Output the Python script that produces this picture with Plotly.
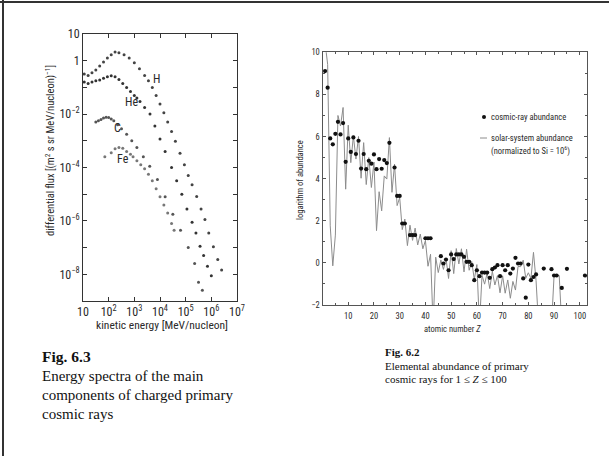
import plotly.graph_objects as go

W, H = 609, 456
def fx(px): return px / W
def fy(py): return 1 - py / H

# ---------------- Fig 6.3 data (log10 E [MeV/nucleon], log10 flux) ----------------
h_logE = [1.05,1.2,1.35,1.5,1.65,1.8,1.95,2.1,2.25,2.4,2.6,2.8,3.0,3.2,3.4,3.55,3.7,3.85,4.0,4.15,4.3,4.45,4.6,4.78,4.95,5.1,5.25,5.43,5.6,5.75,5.9,6.08,6.25,6.4]
h_logF = [-0.5,-0.55,-0.45,-0.35,-0.2,-0.05,0.1,0.22,0.33,0.3,0.22,0.1,-0.08,-0.3,-0.55,-0.75,-1.0,-1.3,-1.62,-1.95,-2.3,-2.65,-3.02,-3.47,-3.9,-4.3,-4.65,-5.09,-5.55,-5.95,-6.45,-6.97,-7.45,-7.84]
he_logE = [1.05,1.2,1.35,1.5,1.65,1.8,1.95,2.1,2.25,2.4,2.55,2.7,2.85,3.0,3.1,3.22,3.4,3.61,3.8,4.0,4.2,4.45,4.65,4.85,5.05,5.25,5.4,5.56,5.7,5.85,6.0]
he_logF = [-0.8,-0.85,-0.8,-0.75,-0.72,-0.66,-0.6,-0.56,-0.6,-0.7,-0.85,-1.0,-1.15,-1.3,-1.4,-1.53,-1.75,-2.0,-2.45,-2.93,-3.4,-4.0,-4.5,-5.0,-5.55,-6.05,-6.45,-6.95,-7.3,-7.7,-8.05]
c_logE = [1.5,1.6,1.7,1.8,1.9,2.0,2.1,2.2,2.35,2.5,2.7,2.9,3.1,3.35,3.6,3.9,4.2,4.5,4.8,5.1,5.35,5.5,5.65]
c_logF = [-2.3,-2.25,-2.2,-2.15,-2.12,-2.13,-2.18,-2.25,-2.4,-2.55,-2.75,-3.0,-3.25,-3.6,-3.95,-4.45,-5.1,-5.75,-6.35,-7.0,-7.6,-8.3,-8.6]
fe_logE = [1.85,2.1,2.25,2.4,2.55,2.7,2.85,2.95,3.1,3.25,3.4,3.55,3.7,3.85,4.0,4.15,4.3,4.45,4.55]
fe_logF = [-3.6,-3.45,-3.3,-3.25,-3.28,-3.4,-3.5,-3.6,-3.75,-3.9,-4.05,-4.25,-4.5,-4.8,-5.1,-5.4,-5.7,-6.1,-6.35]
species_labels = ["H", "He", "C", "Fe"]
label_logE = [3.88, 2.9, 2.36, 2.56]
label_logF = [-0.69, -1.53, -2.52, -3.68]
x1_ticks_exp = [1, 2, 3, 4, 5, 6, 7]
y1_label_exp = [1, 0, -2, -4, -6, -8]
y1_minor_exp = [-1, -3, -5, -7, -9]

# ---------------- Fig 6.2 data ----------------
solar_Z = list(range(1, 94))
solar_log = [10.45,9.43,1.76,-0.14,1.32,7.00,6.50,7.38,3.5,6.54,
             4.76,6.03,4.93,6.00,4.02,5.71,3.72,5.00,3.58,4.79,
             1.53,3.38,2.47,4.13,3.98,5.95,3.35,4.69,2.72,3.10,
             1.58,2.08,0.82,1.79,1.07,1.65,0.85,1.37,0.67,1.06,
             -0.16,0.41,None,0.27,-0.46,0.14,-0.31,0.21,-0.74,0.58,
             -0.51,0.68,-0.05,0.67,-0.43,0.65,-0.35,0.06,-0.78,-0.08,
             None,-0.59,-1.01,-0.48,-1.22,-0.40,-1.05,-0.60,-1.42,-0.61,
             -1.44,-0.81,-1.68,-0.88,-1.29,-0.17,-0.18,0.13,-0.73,-0.47,
             -0.74,0.50,-0.84,None,None,None,None,None,None,-0.6,
             -0.6,-0.6,None]
cr_Z = [1,2,3,4,5,6,7,8,9,10,11,12,13,14,15,16,17,18,19,20,21,22,23,24,25,26,28,
        29,30,31,32,34,35,36,40,41,42,
        46,47,48,49,50,51,52,53,54,55,56,57,58,59,60,61,62,63,64,65,66,67,68,69,70,
        71,72,73,74,75,76,77,78,79,80,81,82,83,86,89,90,91,93,95,102]
cr_log = [9.11,8.32,5.91,5.63,6.13,6.70,6.10,6.64,4.80,5.91,5.27,5.96,5.17,5.80,4.48,5.17,4.45,4.85,4.71,5.15,4.45,4.93,4.47,4.88,4.74,5.70,4.53,
          3.18,3.18,1.87,1.87,1.32,1.32,1.32,1.17,1.17,1.17,
          0.32,-0.03,0.16,-0.35,0.40,0.18,0.40,0.40,0.40,0.29,0.05,0.05,-0.11,-0.82,-0.35,-0.63,-0.46,-0.46,-0.46,-0.71,-0.30,-0.22,-0.11,-0.63,-0.11,
          -0.35,-0.11,-0.51,-0.27,0.24,-0.03,-0.03,-0.74,-1.65,-0.08,-0.82,-0.67,-0.55,-0.27,-0.30,-0.60,-0.60,-1.19,-0.28,-0.60]
cr_groups = [[29,30],[31,32],[34,35,36],[40,41,42],[52,53,54],[56,57],[62,63,64],[76,77],[90,91]]
x2_ticks = [10,20,30,40,50,60,70,80,90,100]
y2_ticks = [-2,0,2,4,6,8,10]

SANS = "Liberation Sans Narrow, Roboto Condensed, DejaVu Sans Condensed, Liberation Sans, Arial, sans-serif"
SERIF = "Liberation Serif, Times New Roman, DejaVu Serif, serif"
TXT = "#2a2a2a"

def pow10_label(k):
    if k == 1:
        return "10"
    if k == 0:
        return "1"
    return "10<sup>" + str(k).replace("-", "\u2212") + "</sup>"

fig = go.Figure()

# left chart traces
for lx, ly, col in [(h_logE, h_logF, "#444"), (he_logE, he_logF, "#333"),
                    (c_logE, c_logF, "#555"), (fe_logE, fe_logF, "#777")]:
    fig.add_trace(go.Scatter(x=[10**v for v in lx], y=[10**v for v in ly], mode="markers",
                             marker=dict(size=3, color=col, symbol="circle"),
                             xaxis="x", yaxis="y", showlegend=False, hoverinfo="skip"))

# right chart traces
solar_plot = [v if v is not None else -3 for v in solar_log]
fig.add_trace(go.Scatter(x=solar_Z, y=solar_plot, mode="lines",
                         line=dict(color="#8c8c8c", width=1),
                         xaxis="x2", yaxis="y2", showlegend=False, hoverinfo="skip"))
lookup = dict(zip(cr_Z, cr_log))
gx, gy = [], []
for g in cr_groups:
    gx += g + [None]
    gy += [lookup[z] for z in g] + [None]
fig.add_trace(go.Scatter(x=gx, y=gy, mode="lines", line=dict(color="#111", width=1),
                         xaxis="x2", yaxis="y2", showlegend=False, hoverinfo="skip"))
fig.add_trace(go.Scatter(x=cr_Z, y=cr_log, mode="markers",
                         marker=dict(size=4.2, color="#111"),
                         xaxis="x2", yaxis="y2", showlegend=False, hoverinfo="skip"))

axis_common = dict(showgrid=False, zeroline=False, showline=True, ticks="inside",
                   mirror="ticks", automargin=False)

fig.update_layout(
    width=W, height=H, margin=dict(l=0, r=0, t=0, b=0),
    paper_bgcolor="white", plot_bgcolor="white",
    xaxis=dict(axis_common, type="log", range=[1, 7], domain=[fx(83), fx(237)], anchor="y",
               tickvals=[10**k for k in x1_ticks_exp],
               ticktext=[pow10_label(k) for k in x1_ticks_exp],
               ticklen=4, linecolor="#333", tickcolor="#333", linewidth=1,
               tickfont=dict(family=SANS, size=12, color=TXT)),
    yaxis=dict(axis_common, type="log", range=[-9, 1], domain=[fy(301), fy(34)], anchor="x",
               tickvals=[10**k for k in y1_label_exp],
               ticktext=[pow10_label(k) for k in y1_label_exp],
               minor=dict(tickvals=[10**k for k in y1_minor_exp], ticks="inside", ticklen=4, tickcolor="#333"),
               ticklen=4, linecolor="#333", tickcolor="#333", linewidth=1,
               tickfont=dict(family=SANS, size=12, color=TXT)),
    xaxis2=dict(axis_common, range=[0, 102.8], domain=[fx(322.5), fx(587)], anchor="y2",
                tickvals=x2_ticks, ticktext=[str(v) for v in x2_ticks],
                ticklen=3, linecolor="#555", tickcolor="#555", linewidth=1, ticklabelstandoff=3,
                minor=dict(dtick=5, ticks="inside", ticklen=2, tickcolor="#555"),
                tickfont=dict(family=SANS, size=8.5, color=TXT)),
    yaxis2=dict(axis_common, range=[-2, 10], domain=[fy(305), fy(52.3)], anchor="x2",
                tickvals=y2_ticks, ticktext=[str(v).replace("-", "\u2212") for v in y2_ticks],
                ticklen=3, linecolor="#555", tickcolor="#555", linewidth=1,
                minor=dict(dtick=1, ticks="inside", ticklen=2, tickcolor="#555"),
                tickfont=dict(family=SANS, size=8.5, color=TXT)),
)

ann = []
def A(text, x, y, size, family=SANS, xanchor="center", yanchor="middle", angle=0, color=TXT, xref="paper", yref="paper"):
    ann.append(dict(text=text, x=x, y=y, xref=xref, yref=yref, showarrow=False,
                    xanchor=xanchor, yanchor=yanchor, textangle=angle,
                    font=dict(family=family, size=size, color=color)))

# left chart texts
A("differential flux [(m<sup>2</sup> s sr MeV/nucleon)<sup>\u22121</sup>]", fx(50), fy(151), 10.5, angle=-90)
A("kinetic energy [MeV/nucleon]", fx(162), fy(325), 11.5)
for t, lx, ly in zip(species_labels, label_logE, label_logF):
    A(t, lx, ly, 12, xref="x", yref="y")
A("<b>Fig. 6.3</b>", fx(40), fy(356), 15.5, family=SERIF, xanchor="left", color="#111")
A("Energy spectra of the main", fx(40), fy(376), 15, family=SERIF, xanchor="left", color="#111")
A("components of charged primary", fx(40), fy(395), 15, family=SERIF, xanchor="left", color="#111")
A("cosmic rays", fx(40), fy(414), 15, family=SERIF, xanchor="left", color="#111")

# right chart texts
A("logarithm of abundance", fx(300), fy(180), 8.5, angle=-90)
A("atomic number <i>Z</i>", fx(452), fy(329), 8.5)
A("cosmic-ray abundance", fx(489), fy(117), 8.5, xanchor="left")
A("solar-system abundance", fx(489), fy(138), 8.5, xanchor="left")
A("(normalized to Si = 10<sup>6</sup>)", fx(489), fy(150), 8.5, xanchor="left")
A("<b>Fig. 6.2</b>", fx(383), fy(352), 11, family=SERIF, xanchor="left", color="#111")
A("Elemental abundance of primary", fx(383), fy(365.5), 11, family=SERIF, xanchor="left", color="#111")
A("cosmic rays for 1 \u2264 <i>Z</i> \u2264 100", fx(383), fy(379), 11, family=SERIF, xanchor="left", color="#111")
fig.update_layout(annotations=ann)

shapes = [
    dict(type="line", xref="paper", yref="paper", x0=0, x1=1, y0=fy(2), y1=fy(2), line=dict(color="#333", width=2)),
    dict(type="line", xref="paper", yref="paper", x0=fx(3), x1=fx(3), y0=0, y1=1, line=dict(color="#333", width=2)),
    dict(type="circle", xref="paper", yref="paper", x0=fx(482), x1=fx(486), y0=fy(119), y1=fy(115),
         fillcolor="#111", line=dict(color="#111", width=0)),
    dict(type="line", xref="paper", yref="paper", x0=fx(480), x1=fx(487), y0=fy(138), y1=fy(138),
         line=dict(color="#8c8c8c", width=1)),
]
fig.update_layout(shapes=shapes)

fig.write_html("out.html", config={"displayModeBar": False},
               post_script="document.body.style.margin='0';document.body.style.padding='0';document.body.style.overflow='hidden';")
